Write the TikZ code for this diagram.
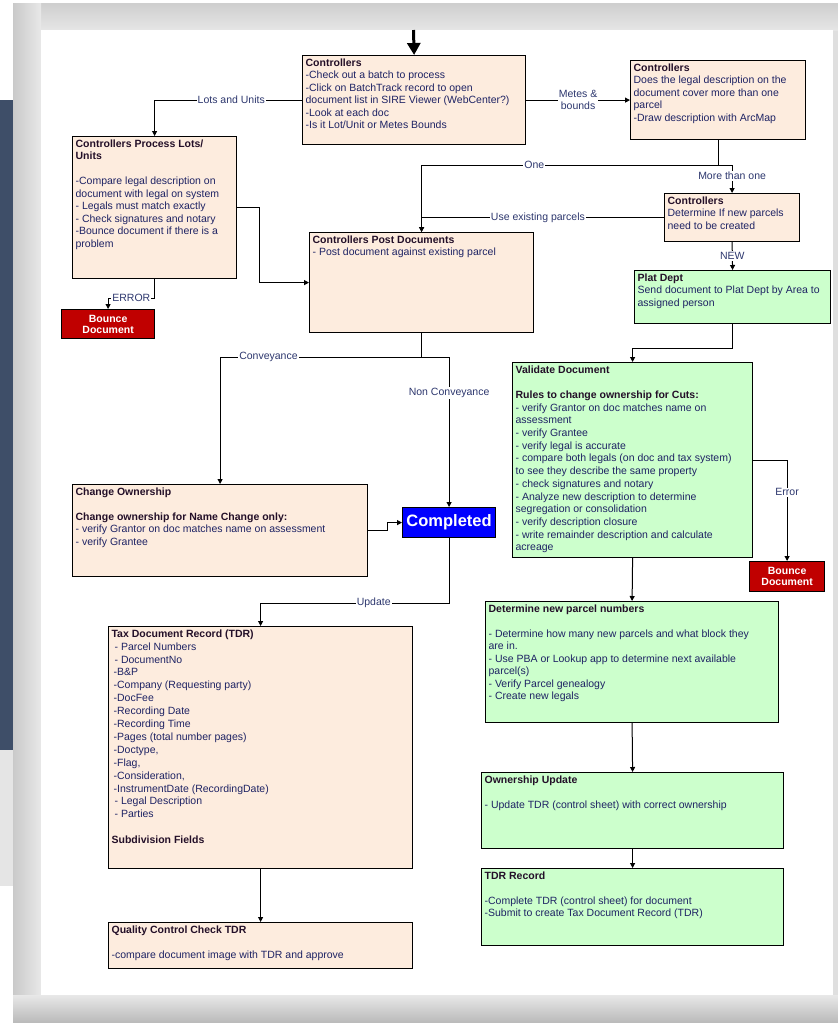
\documentclass[tikz,border=0pt]{standalone}
\usepackage{fontspec}
\setmainfont{Liberation Sans}
\usepackage{xcolor}
\usetikzlibrary{
  	positioning,
  	arrows.meta,
  	calc
  }
\definecolor{peachfill}{RGB}{253,236,222}
\definecolor{mintfill}{RGB}{204,255,204}
\definecolor{bouncered}{RGB}{192,0,0}
\definecolor{doneblue}{RGB}{0,0,255}
\definecolor{bodyink}{RGB}{30,35,100}
\definecolor{titleink}{RGB}{35,15,40}
\definecolor{labink}{RGB}{45,55,110}
\definecolor{slate}{RGB}{62,78,104}
\newcommand{\hd}[1]{\textcolor{titleink}{\textbf{#1}}}
\newcommand{\boxtxt}[3]{\parbox[t][#2pt][t]{#1pt}{\raggedright #3}}
\tikzstyle{peach}=[draw=black, line width=1.2pt, fill=peachfill, inner sep=3pt, anchor=north west, text=bodyink, font=\fontsize{10.5}{12.5}\selectfont]
\tikzstyle{mint}=[peach, fill=mintfill]
\tikzstyle{bounce}=[draw=black, line width=1.2pt, fill=bouncered, text=white, inner sep=0pt, anchor=north west, minimum width=93pt, minimum height=29pt, align=center, font=\bfseries\fontsize{10.5}{11}\selectfont]
\tikzstyle{arr}=[line width=1pt, -{Triangle[length=5pt,width=5pt]}]
\tikzstyle{lab}=[fill=white, inner sep=1pt, text=labink, font=\fontsize{10.5}{12}\selectfont]

\begin{document}
\begin{tikzpicture}[x=1pt, y=-1pt]
  \useasboundingbox (0,0) rectangle (838,1023);
  \fill[white] (0,0) rectangle (838,1023);
  \fill[slate] (0,100) rectangle (13,750);
  \fill[gray!20] (0,750) rectangle (13,886);
  \fill[gray!25] (13,3) rectangle (838,1023);
  \shade[top color=gray!38, bottom color=gray!20] (13,3) rectangle (838,30);
  \shade[left color=gray!42, right color=gray!18] (13,3) rectangle (41,1023);
  \shade[top color=gray!18, bottom color=gray!55] (13,995) rectangle (838,1023);
  \fill[white] (41,30) rectangle (833,995);
%
  \node [peach] (ctrl) at (302,55) {\boxtxt{217}{83}{\hd{Controllers}\\
    -Check out a batch to process\\
    -Click on BatchTrack record to open\\
    document list in SIRE Viewer (WebCenter?)\\
    -Look at each doc\\
    -Is it Lot/Unit or Metes Bounds}};
  \node [peach] (metes) at (630,60) {\boxtxt{169}{73}{\hd{Controllers}\\
    Does the legal description on the\\
    document cover more than one\\
    parcel\\
    -Draw description with ArcMap}};
  \node [peach] (lots) at (72,136) {\boxtxt{158}{136}{\hd{Controllers Process Lots/}\\
    \hd{Units}\\[12.5pt]
    -Compare legal description on\\
    document with legal on system\\
    - Legals must match exactly\\
    - Check signatures and notary\\
    -Bounce document if there is a\\
    problem}};
  \node [peach] (post) at (309,232) {\boxtxt{218}{94}{\hd{Controllers Post Documents}\\
    - Post document against existing parcel}};
  \node [peach] (decide) at (664,193) {\boxtxt{129}{42}{\hd{Controllers}\\
    Determine If new parcels\\
    need to be created}};
  \node [mint] (plat) at (634,270) {\boxtxt{190}{47}{\hd{Plat Dept}\\
    Send document to Plat Dept by Area to\\
    assigned person}};
  \node [bounce] (bouncel) at (61,309) {Bounce\\Document};
%
  \node [mint, font=\fontsize{10.5}{12.7}\selectfont] (validate) at (512,362) {\boxtxt{234}{189}{\hd{Validate Document}\\[12.5pt]
    \hd{Rules to change ownership for Cuts:}\\
    - verify Grantor on doc matches name on\\
    assessment\\
    - verify Grantee\\
    - verify legal is accurate\\
    - compare both legals (on doc and tax system)\\
    to see they describe the same property\\
    - check signatures and notary\\
    - Analyze new description to determine\\
    segregation or consolidation\\
    - verify description closure\\
    - write remainder description and calculate\\
    acreage}};
  \node [bounce, minimum width=75pt, minimum height=30pt] (bouncer) at (749,561) {Bounce\\Document};
  \node [peach] (owner) at (72,484) {\boxtxt{289}{86}{\hd{Change Ownership}\\[12.5pt]
    \hd{Change ownership for Name Change only:}\\
    - verify Grantor on doc matches name on assessment\\
    - verify Grantee}};
  \node [draw=black, line width=1.2pt, fill=doneblue, text=white, anchor=north west,
    minimum width=93pt, minimum height=30pt, inner sep=0pt,
    font=\bfseries\fontsize{16.5}{18}\selectfont] (done) at (402,507) {Completed};
%
  \node [mint] (parcels) at (485,601) {\boxtxt{287}{115}{\hd{Determine new parcel numbers}\\[12.5pt]
    - Determine how many new parcels and what block they\\
    are in.\\
    - Use PBA or Lookup app to determine next available\\
    parcel(s)\\
    - Verify Parcel genealogy\\
    - Create new legals}};
  \node [peach, font=\fontsize{10.5}{12.9}\selectfont] (tdr) at (108,626) {\boxtxt{298}{236}{\hd{Tax Document Record (TDR)}\\
    \hspace*{3pt}- Parcel Numbers\\
    \hspace*{3pt}- DocumentNo\\
    \hspace*{2pt}-B\&P\\
    \hspace*{2pt}-Company (Requesting party)\\
    \hspace*{2pt}-DocFee\\
    \hspace*{2pt}-Recording Date\\
    \hspace*{2pt}-Recording Time\\
    \hspace*{2pt}-Pages (total number pages)\\
    \hspace*{2pt}-Doctype,\\
    \hspace*{2pt}-Flag,\\
    \hspace*{2pt}-Consideration,\\
    \hspace*{2pt}-InstrumentDate (RecordingDate)\\
    \hspace*{3pt}- Legal Description\\
    \hspace*{3pt}- Parties\\[13pt]
    \hd{Subdivision Fields}}};
  \node [mint] (ownupd) at (481,772) {\boxtxt{296}{70}{\hd{Ownership Update}\\[12.5pt]
    - Update TDR (control sheet) with correct ownership}};
  \node [mint] (tdrrec) at (481,868) {\boxtxt{296}{71}{\hd{TDR Record}\\[12.5pt]
    -Complete TDR (control sheet) for document\\
    -Submit to create Tax Document Record (TDR)}};
  \node [peach] (qc) at (108,922) {\boxtxt{298}{40}{\hd{Quality Control Check TDR}\\[13pt]
    -compare document image with TDR and approve}};
%
  \coordinate (feed) at (413.5,30);
  \draw [line width=3pt, -{Triangle[length=12pt,width=13pt]}] (feed) -- (ctrl.north);
  \draw [arr] (ctrl.west) -| node[lab,pos=.24]{Lots and Units} (lots.north);
  \draw [arr] (ctrl.east) -- node[lab,align=center]{Metes \&\\bounds} (metes.west);
  \coordinate (fork) at ($(metes.south)+(0,25)$);
  \draw [line width=1pt] (metes.south) -- (fork);
  \draw [arr] (fork) -| node[lab,pos=.31]{One} (post.north);
  \draw [arr] (fork) -| node[lab,pos=.69]{More than one} (decide.north);
  \draw [arr] (decide.west) -| node[lab,pos=.26]{Use existing parcels} (post.north);
  \draw [arr] (decide.south) -- node[lab]{NEW} (plat.north);
  \draw [arr] (plat.south) -- ++(0,24) -| (validate.north);
  \draw [arr] (lots.east) -- ++(22,0) |- (post.west);
  \draw [arr] (lots.south) -- ++(0,19) -| node[lab,pos=.25]{ERROR} (bouncel.north);
%
  \coordinate (split) at ($(post.south)+(0,24)$);
  \draw [line width=1pt] (post.south) -- (split);
  \draw [arr] (split) -| node[lab,pos=.38]{Conveyance} (owner.north);
  \draw [arr] (split) -| node[lab,pos=.62]{Non Conveyance} (done.north);
  \draw [arr] (owner.east) -- ++(19,0) |- (done.west);
  \draw [arr] (done.south) -- ++(0,65) -| node[lab,pos=.2]{Update} (tdr.north);
  \draw [arr] (tdr.south) -- (qc.north);
  \draw [arr] (validate.east) -| node[lab,pos=.66]{Error} (bouncer.north);
  \draw [arr] (validate.south) -- (parcels.north);
  \draw [arr] (parcels.south) -- (ownupd.north);
  \draw [arr] (ownupd.south) -- (tdrrec.north);
\end{tikzpicture}
\end{document}
